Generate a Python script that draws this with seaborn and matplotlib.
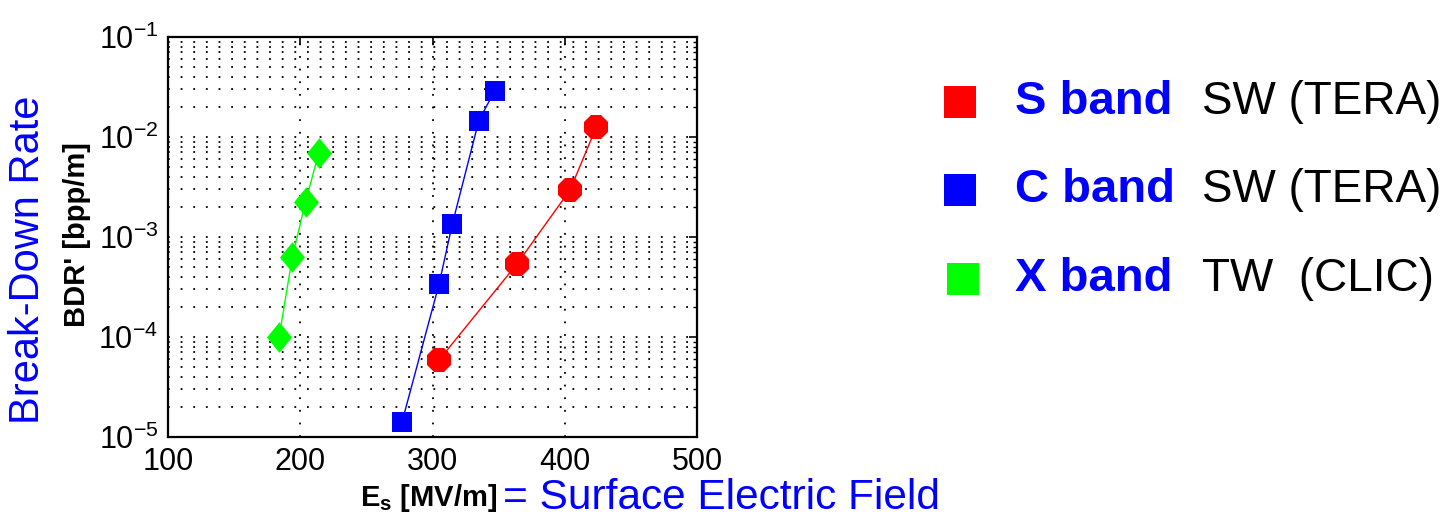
import numpy as np
import pandas as pd
import matplotlib
matplotlib.use("Agg")
import matplotlib.pyplot as plt
import seaborn as sns
from matplotlib.patches import Rectangle
from matplotlib.ticker import LogLocator, FixedLocator

# ---- data ----
s_band_field = [305, 364, 404, 424]
s_band_bdr = [5.9e-5, 5.4e-4, 2.95e-3, 1.27e-2]
c_band_field = [277, 305, 315, 335, 347]
c_band_bdr = [1.42e-5, 3.4e-4, 1.35e-3, 1.45e-2, 2.9e-2]
x_band_field = [184, 194, 204, 214]
x_band_bdr = [1.0e-4, 6.3e-4, 2.25e-3, 6.9e-3]

bands = ["S band", "C band", "X band"]
modes = ["SW (TERA)", "SW (TERA)", "TW  (CLIC)"]
colors = {"S band": "#ff0000", "C band": "#0000ff", "X band": "#00ff00"}
x_ticks = [100, 200, 300, 400, 500]

df = pd.concat([
    pd.DataFrame({"field": s_band_field, "bdr": s_band_bdr, "band": "S band"}),
    pd.DataFrame({"field": c_band_field, "bdr": c_band_bdr, "band": "C band"}),
    pd.DataFrame({"field": x_band_field, "bdr": x_band_bdr, "band": "X band"}),
], ignore_index=True)

sns.set_style("white")
fam = ["Liberation Sans", "DejaVu Sans"]
plt.rcParams["font.family"] = fam
plt.rcParams["mathtext.fontset"] = "custom"
plt.rcParams["mathtext.rm"] = "Liberation Sans"
plt.rcParams["mathtext.it"] = "Liberation Sans"
plt.rcParams["mathtext.bf"] = "Liberation Sans:bold"
plt.rcParams["text.color"] = "black"
plt.rcParams["xtick.color"] = "black"
plt.rcParams["ytick.color"] = "black"

fig = plt.figure(figsize=(14.56, 5.18), dpi=100)
ax = fig.add_axes([168 / 1456, 81 / 518, 529 / 1456, 400 / 518])

diamond = [(0, 1), (0.82, 0), (0, -1), (-0.82, 0), (0, 1)]
markers = {"S band": "8", "C band": "s", "X band": diamond}
sizes = {"S band": 18.5, "C band": 14.5, "X band": 22}

for b in bands:
    sub = df[df["band"] == b]
    sns.lineplot(data=sub, x="field", y="bdr", color=colors[b], marker=markers[b],
                 markersize=sizes[b], markeredgewidth=0, lw=1.0, estimator=None,
                 errorbar=None, sort=False, ax=ax, legend=False, zorder=3)

ax.set_yscale("log")
ax.set_xlim(100, 500)
ax.set_ylim(1e-5, 1e-1)
ax.xaxis.set_major_locator(FixedLocator(x_ticks))
ax.yaxis.set_major_locator(LogLocator(base=10, numticks=10))
ax.yaxis.set_minor_locator(LogLocator(base=10, subs=np.arange(2, 10), numticks=20))

dot = (0, (1, 6))
ax.grid(True, which="major", axis="both", color="black", lw=1.3, ls=dot)
ax.grid(True, which="minor", axis="y", color="black", lw=1.3, ls=dot)
for sp in ax.spines.values():
    sp.set_color("black")
    sp.set_linewidth(1.6)
ax.tick_params(which="both", direction="in", top=True, right=True, color="black")
ax.tick_params(which="major", length=6, width=1.2, labelsize=22, pad=7,
               labelcolor="black")
ax.tick_params(which="minor", length=3, width=1.0)
ax.set_xlabel("")
ax.set_ylabel("")

# axis labels
fig.text(77 / 1456, 1 - 235 / 518, "BDR' [bpp/m]", rotation=90, ha="center", va="center",
         fontsize=21, fontweight="bold", color="black", family=fam)
fig.text(28 / 1456, 1 - 260 / 518, "Break-Down Rate", rotation=90, ha="center", va="center",
         fontsize=30, color="#0000ff", family=fam)
fig.text(360 / 1456, 1 - 498 / 518, r"E$_{\mathbf{s}}$ [MV/m]", ha="left", va="center",
         fontsize=21, fontweight="bold", color="black", family=fam)
fig.text(503 / 1456, 1 - 498 / 518, "= Surface Electric Field", ha="left", va="center",
         fontsize=30.5, color="#0000ff", family=fam)

# legend
rows_y = [102, 190, 279]
for b, m, y in zip(bands, modes, rows_y):
    fig.add_artist(Rectangle(((944 if b != "X band" else 947) / 1456, 1 - (y + 16) / 518),
                             32 / 1456, 32 / 518, transform=fig.transFigure,
                             facecolor=colors[b], edgecolor="none"))
    fig.text(1015 / 1456, 1 - y / 518, b, ha="left", va="center", fontsize=34,
             fontweight="bold", color="#0000ff", family=fam)
    fig.text(1202 / 1456, 1 - y / 518, m, ha="left", va="center", fontsize=33,
             color="black", family=fam)

fig.savefig("out.png", dpi=100)
